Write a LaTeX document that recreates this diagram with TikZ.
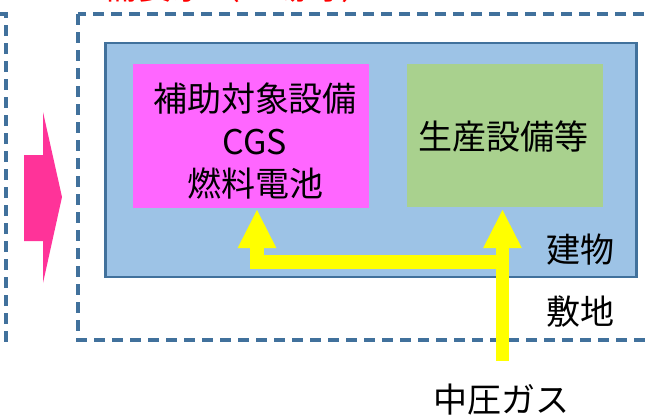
\documentclass[tikz,border=0pt]{standalone}
\usepackage{fontspec}
\newfontfamily\jp{Noto Sans CJK JP}
\usetikzlibrary{arrows.meta}
\definecolor{bldfill}{RGB}{157,195,230}
\definecolor{bldline}{RGB}{65,113,156}
\definecolor{pinkbox}{RGB}{255,102,255}
\definecolor{greenbox}{RGB}{169,209,142}
\definecolor{pinkarrow}{RGB}{255,51,153}
\definecolor{gasyellow}{RGB}{255,255,0}
\tikzset{
  area/.style={draw=bldline, line width=2.4pt, dash pattern=on 8.25pt off 5.25pt},
  label/.style={font=\jp\fontsize{25.5}{30}\selectfont, inner sep=0pt, text=black},
  gas/.style={draw=gasyellow, line width=10pt, line join=miter,
    -{Triangle[length=28.5pt,width=29pt,line width=0pt]}},
}
\begin{document}
\begin{tikzpicture}[x=0.75pt,y=-0.75pt]
\useasboundingbox (0,0) rectangle (651,419);
% dashed areas
\draw[area] (-300,14) rectangle (6,340);
\draw[area] (78,14) rectangle (800,340);
\node[anchor=base, text=red, font=\jp\fontsize{25.5}{30}\selectfont, inner sep=0pt] (top) at (240,-0.5) {需要家（工場等）};
% pink arrow
\fill[pinkarrow] (24,155) -- (43,155) -- (43,112) -- (62,197) -- (43,283) -- (43,241) -- (24,241) -- cycle;
% building
\node[draw=bldline, fill=bldfill, line width=2pt, inner sep=0pt,
  minimum width=398.25pt, minimum height=175.5pt] (bld) at (371,160) {};
\node[fill=pinkbox, inner sep=0pt, minimum width=177pt, minimum height=108pt] (cgs) at (251,136) {};
\node[fill=greenbox, inner sep=0pt, minimum width=147pt, minimum height=107.25pt] (prod) at (505,135.5) {};
\node[label] (l1) at (255,99) {補助対象設備};
\node[label] (l2) at (255,142) {CGS};
\node[label] (l3) at (255,183) {燃料電池};
\node[label] (l4) at (503,137) {生産設備等};
\node[label] (l5) at (580,250) {建物};
\node[label] (l6) at (580,312) {敷地};
\node[label] (gasl) at (501,400) {中圧ガス};
% gas arrows
\coordinate (gin) at (502.5,361);
\coordinate (j) at (502.5,262);
\coordinate (t1) at (257,210);
\coordinate (t2) at (502.5,210);
\draw[gas] (gin) -- (t2);
\draw[gas] (j) -- (j -| t1) -- (t1);
\end{tikzpicture}
\end{document}
